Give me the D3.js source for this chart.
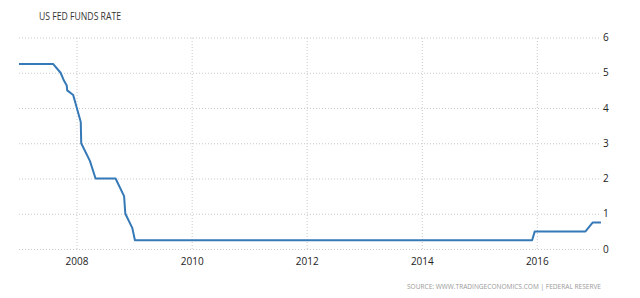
<!DOCTYPE html>
<html lang="en">
<head>
    <meta charset="UTF-8">
    <title>US Fed Funds Rate</title>
    <script src="https://d3js.org/d3.v7.min.js"></script>
    <style>
        body { margin: 0; background: #fff; }
        text { font-family: "Open Sans", "Liberation Sans", sans-serif; }
    </style>
</head>
<body>

<script>
    dates = ["2007-01-01", "2007-08-05", "2007-09-22", "2007-10-14", "2007-10-31", "2007-11-03",
             "2007-12-11", "2008-01-28", "2008-01-31", "2008-03-26", "2008-05-01", "2008-09-05",
             "2008-10-29", "2008-11-06", "2008-12-20", "2009-01-06", "2015-12-02", "2015-12-19",
             "2016-11-05", "2016-12-20", "2017-02-11"]
    rates = [5.25, 5.25, 5.0, 4.77, 4.64, 4.5,
             4.37, 3.6, 3.0, 2.5, 2.0, 2.0,
             1.5, 1.0, 0.6, 0.25, 0.25, 0.5,
             0.5, 0.75, 0.75]
    yearTicks = [2008, 2010, 2012, 2014, 2016]
    rateTicks = [0, 1, 2, 3, 4, 5, 6]

    parse = d3.timeParse("%Y-%m-%d")
    data = dates.map((d, i) => ({date: parse(d), rate: rates[i]}))

    //chart dimensions
    w = 640
    h = 298
    margin = {top: 37.5, right: 40, bottom: 49, left: 19}
    width = w - margin.left - margin.right
    height = h - margin.top - margin.bottom

    svg = d3.select("body")
        .append("svg")
        .attr("width", w)
        .attr("height", h)

    g = svg.append("g")
        .attr("transform", "translate(" + margin.left + "," + margin.top + ")")

    //scales
    x = d3.scaleTime()
        .domain([new Date(2007, 0, 1), new Date(2017, 1, 5)])
        .range([0, width])

    y = d3.scaleLinear()
        .domain([0, 6])
        .range([height, 0])

    //grid: horizontal
    g.append("g")
        .attr("class", "y_grid")
        .call(d3.axisRight(y).tickValues(rateTicks).tickSize(width).tickFormat(""))
        .call(a => a.select(".domain").remove())
        .selectAll("line")
        .attr("stroke", "#c8c8c8")
        .attr("stroke-dasharray", "1,2")

    //grid: vertical
    g.append("g")
        .attr("class", "x_grid")
        .attr("transform", "translate(0," + height + ")")
        .call(d3.axisBottom(x).tickValues(yearTicks.map(yr => new Date(yr, 0, 1))).tickSize(-height).tickFormat(""))
        .call(a => a.select(".domain").remove())
        .selectAll("line")
        .attr("stroke", "#c8c8c8")
        .attr("stroke-dasharray", "1,2")

    //x axis labels
    xAxis = g.append("g")
        .attr("class", "x_axis")
        .attr("transform", "translate(0," + height + ")")
        .call(d3.axisBottom(x)
            .tickValues(yearTicks.map(yr => new Date(yr, 0, 1)))
            .tickSize(0)
            .tickPadding(9)
            .tickFormat(d3.timeFormat("%Y")))
    xAxis.select(".domain").remove()
    xAxis.selectAll("text")
        .attr("fill", "#222")
        .style("font-size", "10px")

    //y axis labels
    yAxis = g.append("g")
        .attr("class", "y_axis")
        .attr("transform", "translate(" + (width + 3) + ",0)")
        .call(d3.axisRight(y).tickValues(rateTicks).tickSize(0).tickPadding(0).tickFormat(d3.format("d")))
    yAxis.select(".domain").remove()
    yAxis.selectAll("text")
        .attr("fill", "#222")
        .style("font-size", "10px")

    //line
    line = d3.line()
        .x(d => x(d.date))
        .y(d => y(d.rate))

    g.append("path")
        .datum(data)
        .attr("fill", "none")
        .attr("stroke", "#3579b7")
        .attr("stroke-width", 2)
        .attr("stroke-linejoin", "round")
        .attr("d", line)

    //title
    svg.append("text")
        .attr("x", 39)
        .attr("y", 19.5)
        .attr("fill", "#333")
        .style("font-size", "10px")
        .attr("textLength", 82)
        .attr("lengthAdjust", "spacingAndGlyphs")
        .text("US FED FUNDS RATE")

    //source
    svg.append("text")
        .attr("x", 601)
        .attr("y", 288.5)
        .attr("text-anchor", "end")
        .attr("fill", "#999")
        .style("font-size", "7.5px")
        .attr("textLength", 194)
        .attr("lengthAdjust", "spacingAndGlyphs")
        .text("SOURCE: WWW.TRADINGECONOMICS.COM | FEDERAL RESERVE")
</script>

</body>
</html>
